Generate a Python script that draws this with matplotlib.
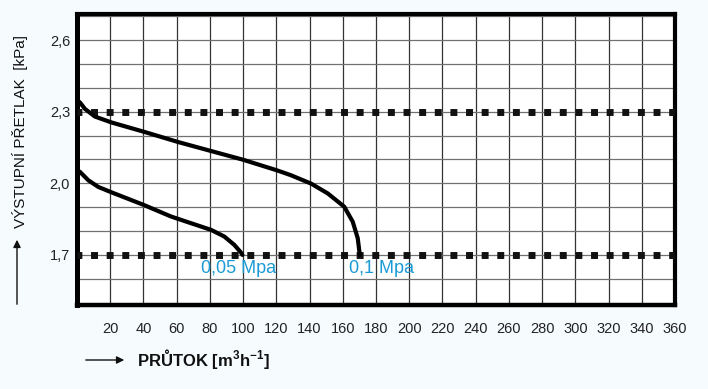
import matplotlib
matplotlib.use("Agg")
import matplotlib.pyplot as plt
import matplotlib.patches as mpatches
import numpy as np

# ---- data ----
x_05 = [0, 1.8, 6.8, 12.8, 20.9, 40, 56.6, 68.6, 80.7, 88.7, 94.7, 98.7, 99.6]
y_05 = [2.055, 2.048, 2.013, 1.985, 1.962, 1.91, 1.861, 1.833, 1.805, 1.777, 1.742, 1.71, 1.70]
x_01 = [0, 1.8, 4.8, 10.8, 20.9, 40.9, 61, 81, 100, 120.6, 128.8, 140.9, 150.9, 160.9, 166, 169, 170, 170.2]
y_01 = [2.348, 2.339, 2.312, 2.280, 2.255, 2.215, 2.173, 2.135, 2.099, 2.054, 2.034, 1.999, 1.958, 1.902, 1.839, 1.77, 1.714, 1.70]
limit_lines = [1.7, 2.3]
x_ticks = list(range(20, 361, 20))
y_ticks = [1.7, 2.0, 2.3, 2.6]
y_ticklabels = ["1,7", "2,0", "2,3", "2,6"]
label_05 = "0,05 Mpa"
label_01 = "0,1 Mpa"

plt.rcParams['font.family'] = ['Liberation Sans', 'DejaVu Sans']
plt.rcParams['mathtext.fontset'] = 'custom'
plt.rcParams['mathtext.rm'] = 'Liberation Sans'
plt.rcParams['mathtext.bf'] = 'Liberation Sans:bold'

W, H = 708, 389
fig = plt.figure(figsize=(W / 100, H / 100), dpi=100)
fig.patch.set_facecolor('#f6fbfd')

left, right, top, bottom = 77, 675, 14, 305
ax = fig.add_axes([left / W, 1 - bottom / H, (right - left) / W, (bottom - top) / H])
ax.set_facecolor('white')
ax.set_xlim(0, 360)
ax.set_ylim(1.49, 2.71)

# grid
for xv in x_ticks[:-1]:
    ax.axvline(xv, color='#333333', lw=0.9, zorder=1)
for yv in np.arange(1.6, 2.71, 0.1):
    ax.axhline(yv, color='#707070', lw=0.9, zorder=1)

# dotted limit lines
for yv in limit_lines:
    ax.plot([0, 360], [yv, yv], color='#111111', lw=5.0,
            linestyle=(0.3, (1.0, 1.25)), solid_capstyle='butt', zorder=3)

# curves
for xs, ys in [(x_05, y_05), (x_01, y_01)]:
    ax.plot(xs, ys, color='black', lw=3.0, zorder=4,
            solid_capstyle='round', solid_joinstyle='round')

ax.text(74.5, 1.642, label_05, color='#1a9ad6', fontsize=13, ha='left', va='center',
        fontweight='medium', zorder=5)
ax.text(163.5, 1.642, label_01, color='#1a9ad6', fontsize=13, ha='left', va='center',
        fontweight='medium', zorder=5)

# spines
for s in ['left', 'right', 'top', 'bottom']:
    ax.spines[s].set_color('black')
ax.spines['left'].set_linewidth(3.6)
ax.spines['bottom'].set_linewidth(3.2)
ax.spines['right'].set_linewidth(3.0)
ax.spines['top'].set_linewidth(3.0)

ax.set_xticks(x_ticks)
ax.set_xticklabels([str(v) for v in x_ticks])
ax.set_yticks(y_ticks)
ax.set_yticklabels(y_ticklabels)
ax.tick_params(axis='both', length=0, labelsize=10.5, colors='#222222')
ax.tick_params(axis='x', pad=12)
ax.tick_params(axis='y', pad=5)

# axis titles with arrows
fig.text(137 / W, 1 - 359 / H, r"PRŮTOK [m$^{\mathbf{3}}$h$^{\mathbf{-1}}$]", fontsize=12,
         fontweight='bold', color='#111111', ha='left', va='center')
fig.add_artist(mpatches.FancyArrowPatch(
    (83 / W, 1 - 360 / H), (127 / W, 1 - 360 / H), transform=fig.transFigure,
    arrowstyle='-|>', mutation_scale=11, lw=1.0, color='#111111'))

fig.text(20 / W, 1 - 132 / H, "VÝSTUPNÍ PŘETLAK  [kPa]", fontsize=11, rotation=90,
         color='#111111', ha='center', va='center')
fig.add_artist(mpatches.FancyArrowPatch(
    (17 / W, 1 - 307 / H), (17 / W, 1 - 237 / H), transform=fig.transFigure,
    arrowstyle='-|>', mutation_scale=11, lw=1.0, color='#111111'))

fig.savefig('out.png', dpi=100, facecolor=fig.get_facecolor())
